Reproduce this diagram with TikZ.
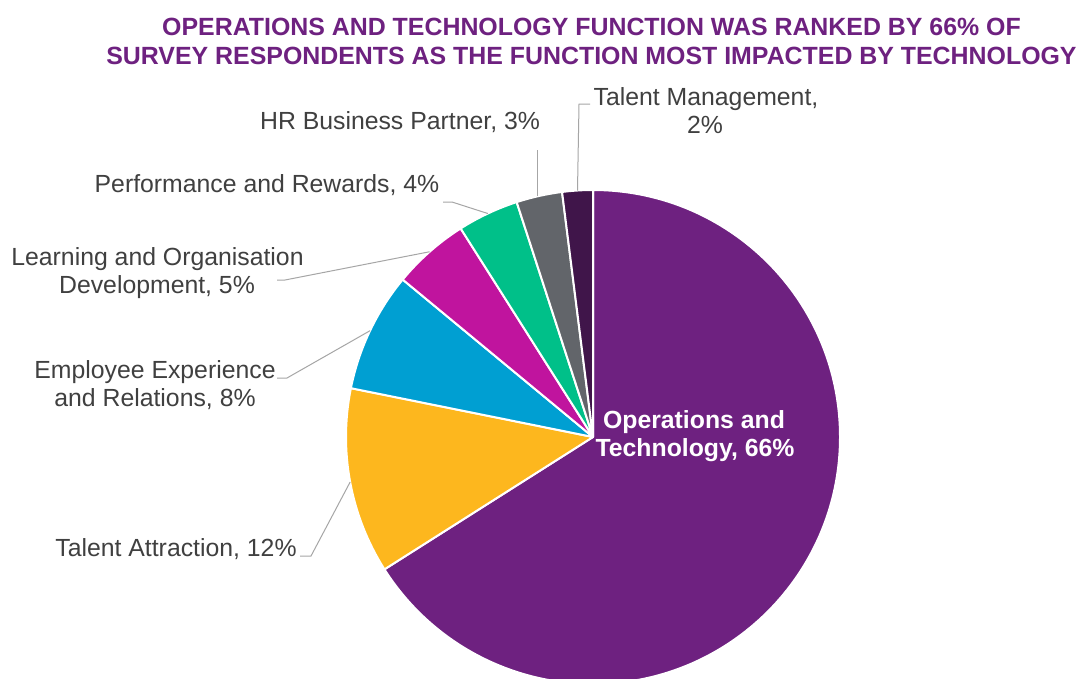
\documentclass[tikz,border=0pt]{standalone}
\usepackage{fontspec}
\setmainfont{Liberation Sans}
\definecolor{opcol}{RGB}{110,33,128}
\definecolor{tacol}{RGB}{253,183,30}
\definecolor{eecol}{RGB}{0,159,210}
\definecolor{locol}{RGB}{192,20,158}
\definecolor{prcol}{RGB}{0,192,137}
\definecolor{hrcol}{RGB}{98,101,106}
\definecolor{tmcol}{RGB}{64,21,74}
\definecolor{txtgray}{RGB}{64,64,64}
\definecolor{leadgray}{RGB}{166,166,166}
\tikzset{
  slice/.style={draw=white, line width=2pt, line join=round},
  lbl/.style={anchor=base, inner sep=0pt, text=txtgray, font=\fontsize{24.8}{28}\selectfont},
  oplbl/.style={anchor=base, inner sep=0pt, text=white, font=\bfseries\fontsize{24.8}{28}\selectfont},
  ttl/.style={anchor=base, inner sep=0pt, text=opcol, font=\bfseries\fontsize{24.9}{29}\selectfont},
  leader/.style={draw=leadgray, line width=1pt}
}
\begin{document}
\begin{tikzpicture}[x=1pt,y=1pt]
\useasboundingbox (0,0) rectangle (1076,-678);
\fill[white] (0,0) rectangle (1076,-678);
\clip (0,0) rectangle (1076,-678);
\def\R{247}
\coordinate (c) at (593,-437);
% slices
\fill[opcol, slice] (c) -- ++(90:\R) arc[start angle=90, end angle=-147.6, radius=\R] -- cycle;
\fill[tacol, slice] (c) -- ++(212.4:\R) arc[start angle=212.4, end angle=168.6, radius=\R] -- cycle;
\fill[eecol, slice] (c) -- ++(168.6:\R) arc[start angle=168.6, end angle=140.4, radius=\R] -- cycle;
\fill[locol, slice] (c) -- ++(140.4:\R) arc[start angle=140.4, end angle=122.4, radius=\R] -- cycle;
\fill[prcol, slice] (c) -- ++(122.4:\R) arc[start angle=122.4, end angle=108, radius=\R] -- cycle;
\fill[hrcol, slice] (c) -- ++(108:\R) arc[start angle=108, end angle=97.2, radius=\R] -- cycle;
\fill[tmcol, slice] (c) -- ++(97.2:\R) arc[start angle=97.2, end angle=90, radius=\R] -- cycle;
% pie edge points at slice mid-angles
\path (c) ++(190.5:\R) coordinate (pTA);
\path (c) ++(154.5:\R) coordinate (pEE);
\path (c) ++(131.4:\R) coordinate (pLO);
\path (c) ++(115.2:\R) coordinate (pPR);
\path (c) ++(102.6:\R) coordinate (pHR);
\path (c) ++(93.6:\R) coordinate (pTM);
% title
\node[ttl] (t1) at (591.5,-35) {OPERATIONS AND TECHNOLOGY FUNCTION WAS RANKED BY 66\% OF};
\node[ttl] (t2) at (591.5,-64) {SURVEY RESPONDENTS AS THE FUNCTION MOST IMPACTED BY TECHNOLOGY};
% labels
\node[oplbl] (op1) at (694,-428) {Operations and};
\node[oplbl] (op2) at (695,-456) {Technology, 66\%};
\node[lbl] (ta) at (176,-556) {Talent Attraction, 12\%};
\node[lbl] (ee1) at (155,-378) {Employee Experience};
\node[lbl] (ee2) at (155,-406) {and Relations, 8\%};
\node[lbl] (lo1) at (157.5,-265) {Learning and Organisation};
\node[lbl] (lo2) at (157,-293) {Development, 5\%};
\node[lbl] (pr) at (267,-192) {Performance and Rewards, 4\%};
\node[lbl] (hr) at (400,-129) {HR Business Partner, 3\%};
\node[lbl] (tm1) at (706,-105) {Talent Management,};
\node[lbl] (tm2) at (705,-133) {2\%};
% leader lines
\coordinate (qTA) at (300,-556);
\coordinate (kTA) at (311,-556);
\draw[leader] (qTA) -- (kTA) -- (pTA);
\coordinate (qEE) at (277,-378);
\coordinate (kEE) at (287,-378);
\draw[leader] (qEE) -- (kEE) -- (pEE);
\coordinate (qLO) at (277,-280);
\coordinate (kLO) at (285,-280);
\draw[leader] (qLO) -- (kLO) -- (pLO);
\coordinate (qPR) at (443,-202);
\coordinate (kPR) at (452,-202);
\draw[leader] (qPR) -- (kPR) -- (pPR);
\coordinate (qHR) at (537,-150);
\draw[leader] (qHR) -- (qHR |- pHR);
\coordinate (qTM) at (590,-104);
\coordinate (kTM) at (579,-104);
\draw[leader] (qTM) -- (kTM) -- (pTM);
\end{tikzpicture}
\end{document}
